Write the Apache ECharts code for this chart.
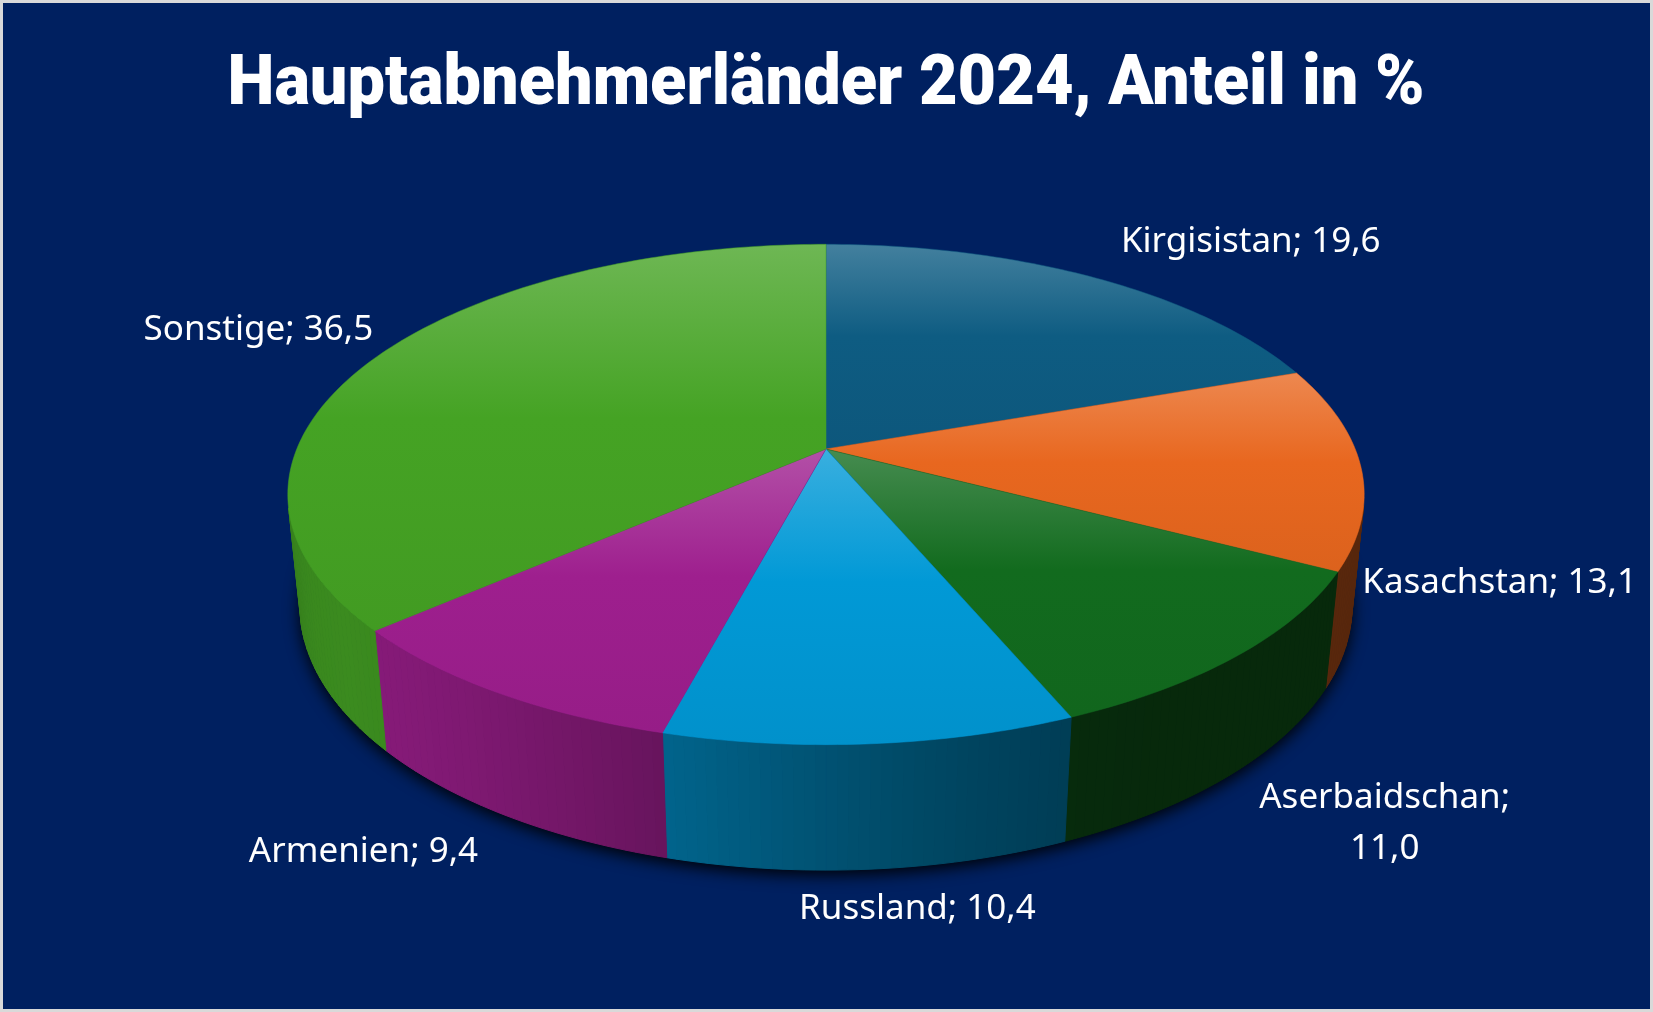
<!DOCTYPE html>
<html>
<head>
<meta charset="utf-8">
<title>Hauptabnehmerländer 2024</title>
<script src="https://cdn.jsdelivr.net/npm/echarts@6/dist/echarts.min.js"></script>
<style>
    html, body { margin: 0; padding: 0; background: #d9d9d9; }
    #chart { width: 1653px; height: 1012px; }
</style>
</head>
<body>
<div id="chart"></div>
<script>
// Daten
const countries = ['Kirgisistan', 'Kasachstan', 'Aserbaidschan', 'Russland', 'Armenien', 'Sonstige'];
const shares = [19.6, 13.1, 11.0, 10.4, 9.4, 36.5];
const sliceColors = ['#0e5c82', '#e8671f', '#126b1e', '#0199d6', '#9e1f8e', '#45a324'];
const chartTitle = 'Hauptabnehmerländer 2024, Anteil in %';

// 3D-Ansicht (Perspektive)
const CX = 826, CY = 449;      // Mittelpunkt der Oberseite
const F = 2590;                // Brennweite
const DIST = 4.894;            // Abstand Kamera
const TILT = 27.2 * Math.PI / 180;
const SIN = Math.sin(TILT), COS = Math.cos(TILT);
const H = 0.238;               // Höhe des Kuchens
const STEP = Math.PI / 180;
const VISIBLE_Y = 1 / (DIST * COS);
const LIGHT_ANGLE = 235 * Math.PI / 180;

const LABEL_FONT = '35px "Noto Sans"';
const LABEL_MAX = 300;
const LABEL_SHIFT_X = 16;
const TITLE_FONT = '900 70px Roboto';
const TITLE_WIDTH = 1197;

const chart = echarts.init(document.getElementById('chart'));

const total = shares.reduce((a, b) => a + b, 0);
const startAngles = [];
let acc = 0;
shares.forEach(function (v) {
    startAngles.push(acc / total * Math.PI * 2);
    acc += v;
});

// Winkel im Uhrzeigersinn ab 12 Uhr (hinten)
function project(a, r, z) {
    const X = r * Math.sin(a);
    const Y = -r * Math.cos(a);
    const w = DIST - Y * COS - z * SIN;
    const u = z * COS - Y * SIN;
    return [CX + F * X / w, CY - F * u / w];
}

function hexRgb(hex) {
    return [1, 3, 5].map(function (i) { return parseInt(hex.substr(i, 2), 16); });
}
function shade(hex, f) {
    const c = hexRgb(hex).map(function (v) { return Math.round(v * f); });
    return 'rgb(' + c.join(',') + ')';
}
function tint(hex, t) {
    const c = hexRgb(hex).map(function (v) { return Math.round(v + (255 - v) * t); });
    return 'rgb(' + c.join(',') + ')';
}

const measureCtx = document.createElement('canvas').getContext('2d');
function textWidth(text, font) {
    measureCtx.font = font;
    return measureCtx.measureText(text).width;
}

function labelLines(name, value) {
    const text = name + '; ' + value.toFixed(1).replace('.', ',');
    if (textWidth(text, LABEL_FONT) <= LABEL_MAX) return [text];
    const cut = text.lastIndexOf(' ');
    return [text.slice(0, cut), text.slice(cut + 1)];
}

function clamp(v, lo, hi) {
    return Math.max(lo, Math.min(hi, v));
}

function renderSlice(params, api) {
    const i = params.dataIndex;
    const value = api.value(0);
    const a0 = startAngles[i];
    const a1 = a0 + value / total * Math.PI * 2;
    const base = sliceColors[i];
    const children = [];

    // Schatten unter dem Kuchen
    if (i === 0) {
        const ring = [];
        for (let a = 0; a < Math.PI * 2; a += STEP) ring.push(project(a, 1, -H));
        children.push({
            type: 'polygon', z2: 1, silent: true,
            shape: { points: ring },
            style: { fill: '#001640', shadowBlur: 16, shadowColor: 'rgba(0,0,0,0.95)', shadowOffsetY: 5 }
        });
    }

    const n = Math.max(2, Math.ceil((a1 - a0) / STEP));

    // Seitenwand
    for (let k = 0; k < n; k++) {
        const b0 = a0 + (a1 - a0) * k / n;
        const b1 = a0 + (a1 - a0) * (k + 1) / n;
        const mid = (b0 + b1) / 2;
        if (-Math.cos(mid) < VISIBLE_Y) continue;
        const light = Math.max(0, Math.cos(mid - LIGHT_ANGLE));
        const c = shade(base, 0.38 + 0.47 * light * light);
        children.push({
            type: 'polygon', z2: 10,
            shape: { points: [project(b0, 1, 0), project(b1, 1, 0), project(b1, 1, -H), project(b0, 1, -H)] },
            style: { fill: c, stroke: c, lineWidth: 1 }
        });
    }

    // Oberseite
    const top = [project(0, 0, 0)];
    for (let k = 0; k <= n; k++) top.push(project(a0 + (a1 - a0) * k / n, 1, 0));
    children.push({
        type: 'polygon', z2: 100,
        shape: { points: top },
        style: {
            fill: new echarts.graphic.LinearGradient(0, 0, 0, 1, [
                { offset: 0, color: tint(base, 0.22) },
                { offset: 0.45, color: base },
                { offset: 1, color: shade(base, 0.95) }
            ]),
            stroke: base, lineWidth: 0.5
        }
    });

    // Beschriftung
    const mid = (a0 + a1) / 2;
    const dx = Math.sin(mid), dy = -Math.cos(mid);
    const front = dy > 0;
    const anchor = project(mid, 1, front ? -H : 0);
    const lines = labelLines(countries[i], value);
    const hw = Math.max.apply(null, lines.map(function (l) { return textWidth(l, LABEL_FONT); })) / 2;
    const lineH = 51;
    const hh = lines.length * lineH / 2 - (lines.length === 1 ? 8 : 20);
    const gap = 22;
    const side = clamp(dx * 5, -1, 1);
    const shift = front ? LABEL_SHIFT_X * side : LABEL_SHIFT_X;
    let lx = anchor[0] + gap * dx + hw * side + shift;
    let ly = anchor[1] + gap * dy + hh * clamp(dy * 3, -1, 1);
    lx = clamp(lx, 16 + hw, 1653 - 16 - hw);
    children.push({
        type: 'text', z2: 200,
        x: lx, y: ly,
        style: {
            text: lines.join('\n'),
            font: LABEL_FONT,
            fill: '#ffffff',
            align: 'center',
            verticalAlign: 'middle',
            lineHeight: lineH
        }
    });

    return { type: 'group', children: children };
}

chart.setOption({
    backgroundColor: '#d9d9d9',
    animation: false,
    graphic: [{
        type: 'rect', z: -10, silent: true,
        shape: { x: 3, y: 3, width: 1647, height: 1006 },
        style: { fill: '#002060' }
    }, {
        // Titel, schmal gesetzt
        type: 'text', z: 10, silent: true,
        x: 826, y: 86,
        scaleX: TITLE_WIDTH / textWidth(chartTitle, TITLE_FONT),
        style: {
            text: chartTitle,
            font: TITLE_FONT,
            fill: '#ffffff',
            align: 'center',
            verticalAlign: 'middle'
        }
    }],
    series: [{
        type: 'custom',
        coordinateSystem: 'none',
        renderItem: renderSlice,
        data: shares.map(function (v, i) { return { name: countries[i], value: [v] }; })
    }]
});
</script>
</body>
</html>
